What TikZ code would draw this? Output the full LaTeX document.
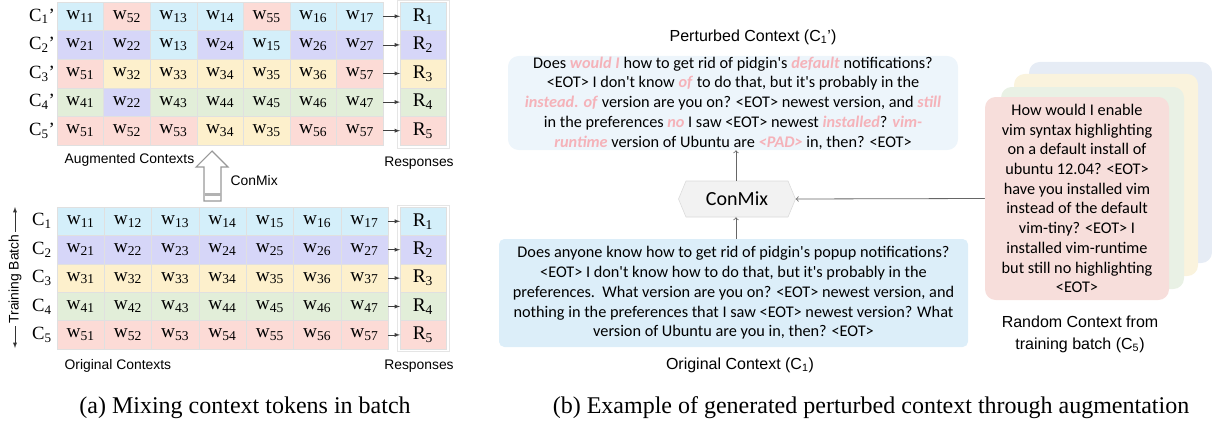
\documentclass[tikz,border=0pt]{standalone}
\usepackage{fontspec}
\setmainfont{Liberation Serif}
\setsansfont{Liberation Sans}
\newfontfamily\boxfont{Carlito}
\usepackage{tikz}
\usetikzlibrary{positioning, shapes.symbols, arrows}
\tikzset{>=latex}

\definecolor{tok1}{HTML}{D4EFFA}
\definecolor{tok2}{HTML}{D6D6F8}
\definecolor{tok3}{HTML}{FDF0CC}
\definecolor{tok4}{HTML}{E2EED9}
\definecolor{tok5}{HTML}{FCDBD6}
\definecolor{pertfill}{HTML}{EDF5FB}
\definecolor{origfill}{HTML}{DCEEF9}
\definecolor{mixpink}{HTML}{F5B2B9}
\definecolor{stackred}{HTML}{F7DEDB}
\definecolor{stackgreen}{HTML}{E9F1E5}
\definecolor{stackyellow}{HTML}{FAF3DD}
\definecolor{stackblue}{HTML}{E6ECF5}

\newcommand{\pk}[1]{\textcolor{mixpink}{\textbf{\textit{#1}}}}

\tikzset{
  cell/.style={draw=black!12, minimum width=34.95pt, minimum height=21.45pt, inner sep=0pt, outer sep=0pt, anchor=north west, font=\fontsize{14.5}{16}\selectfont},
  clabel/.style={font=\fontsize{14}{16}\selectfont},
  lbl/.style={font=\sffamily\fontsize{10.4}{12}\selectfont},
  title/.style={font=\sffamily\fontsize{12}{16.5}\selectfont, align=center},
  ctx/.style={rounded corners=8pt, align=center, inner sep=0pt, font=\boxfont\fontsize{12.2}{14.8}\selectfont},
  flow/.style={-to, black!60, line width=0.6pt},
  caption/.style={font=\fontsize{18}{20}\selectfont}
}

\begin{document}
\begin{tikzpicture}[x=0.75pt, y=-0.75pt]
\useasboundingbox (0,0) rectangle (1212,428);

% (a) augmented contexts
\draw[black!10, fill=white] (397,0) rectangle (449,148);
\foreach \row [count=\r] in {{11,52,13,14,55,16,17},{21,22,13,24,15,26,27},{51,32,33,34,35,36,57},{41,22,43,44,45,46,47},{51,52,53,34,35,56,57}} {
  \node[clabel] (ca-\r) at (42,{2+28.6*\r-14.3}) {C\textsubscript{\r}'};
  \foreach \s [count=\c, evaluate=\s as \tk using int(\s/10)] in \row
    \node[cell, fill=tok\tk] (a-\r-\c) at ({57+46.6*(\c-1)},{2+28.6*(\r-1)}) {w\textsubscript{\s}};
  \node[cell, fill=tok\r, minimum width=34.5pt] (ra-\r) at (400,{2+28.6*(\r-1)}) {R\textsubscript{\r}};
  \draw[->, black!75] (a-\r-7) -- (ra-\r);
}
\node[lbl, anchor=west] (aug) at (60,160) {Augmented Contexts};
\node[lbl] (resa) at (419,163) {Responses};

% hollow ConMix arrow
\draw[black!40, fill=white, line width=0.8pt] (204,201) -- (204,167) -- (196,167) -- (212,151) -- (228,167) -- (221,167) -- (221,201) -- cycle;
\fill[black!30] (204.5,193) rectangle (220.5,196);
\node[lbl, anchor=west] (mixlbl) at (226,181) {ConMix};

% (a) original contexts
\draw[black!10, fill=white] (397,205) rectangle (449,351);
\foreach \r in {1,...,5} {
  \node[clabel] (co-\r) at (42,{207+28.4*\r-14.2}) {C\textsubscript{\r}};
  \foreach \c in {1,...,7}
    \node[cell, fill=tok\r, minimum width=35.5pt] (o-\r-\c) at ({57+47.3*(\c-1)},{207+28.4*(\r-1)}) {w\textsubscript{\r\c}};
  \node[cell, fill=tok\r, minimum width=34.5pt] (ro-\r) at (400,{207+28.4*(\r-1)}) {R\textsubscript{\r}};
  \draw[->, black!75] (o-\r-7) -- (ro-\r);
}
\node[lbl, anchor=west] (orig) at (60,366) {Original Contexts};
\node[lbl] (reso) at (419,366) {Responses};

% training batch
\node[lbl, rotate=90, inner sep=2pt] (batch) at (15,279) {Training Batch};
\coordinate (btop) at (15,207);
\coordinate (bbot) at (15,348);
\draw[->, black!80] (batch.east) -- (btop);
\draw[->, black!80] (batch.west) -- (bbot);

% (b) perturbed context
\node[title] (ptitle) at (753,37) {Perturbed Context (C\textsubscript{1}')};
\node[ctx, fill=pertfill, minimum width=337.5pt, minimum height=70.5pt] (pert) at (733,103) {Does \pk{would I} how to get rid of pidgin's \pk{default} notifications?\\
<EOT> I don't know \pk{of} to do that, but it's probably in the\\
\pk{instead. of} version are you on? <EOT> newest version, and \pk{still}\\
in the preferences \pk{no} I saw <EOT> newest \pk{installed}? \pk{vim-}\\
\pk{runtime} version of Ubuntu are \pk{<PAD>} in, then? <EOT>};

\node[signal, signal to=west and east, signal pointer angle=135, fill=black!5, draw=black!15, minimum width=87.75pt, minimum height=27pt, font=\boxfont\fontsize{15}{18}\selectfont] (mix) at (737,199) {ConMix};

\node[ctx, fill=origfill, rounded corners=4pt, minimum width=351.75pt, minimum height=81pt] (ctxo) at (733.5,293) {Does anyone know how to get rid of pidgin's popup notifications?\\
<EOT> I don't know how to do that, but it's probably in the\\
preferences.\ \ What version are you on? <EOT> newest version, and\\
nothing in the preferences that I saw <EOT> newest version? What\\
version of Ubuntu are you in, then? <EOT>};
\node[title] (otitle) at (740,365) {Original Context (C\textsubscript{1})};

% random contexts from the batch
\fill[stackblue, rounded corners=8pt] (1029,62) rectangle (1212,263);
\fill[stackyellow, rounded corners=8pt] (1014,74) rectangle (1198,276);
\fill[stackgreen, rounded corners=8pt] (1001,87) rectangle (1184,289);
\node[ctx, fill=stackred, minimum width=138pt, minimum height=152.25pt] (rand) at (1077,198.5) {How would I enable\\
vim syntax highlighting\\
on a default install of\\
ubuntu 12.04? <EOT>\\
have you installed vim\\
instead of the default\\
vim-tiny? <EOT> I\\
installed vim-runtime\\
but still no highlighting\\
<EOT>};
\node[title] (rtitle) at (1080,334) {Random Context from\\training batch (C\textsubscript{5})};

\draw[flow] (mix.north -| 736,0) -- (pert.south -| 736,0);
\draw[flow] (ctxo.north -| 736,0) -- (mix.south -| 736,0);
\draw[flow] (rand.west) -- (mix.east);

% captions
\node[caption] (capa) at (245,408) {(a) Mixing context tokens in batch};
\node[caption] (capb) at (871,408) {(b) Example of generated perturbed context through augmentation};
\end{tikzpicture}
\end{document}
